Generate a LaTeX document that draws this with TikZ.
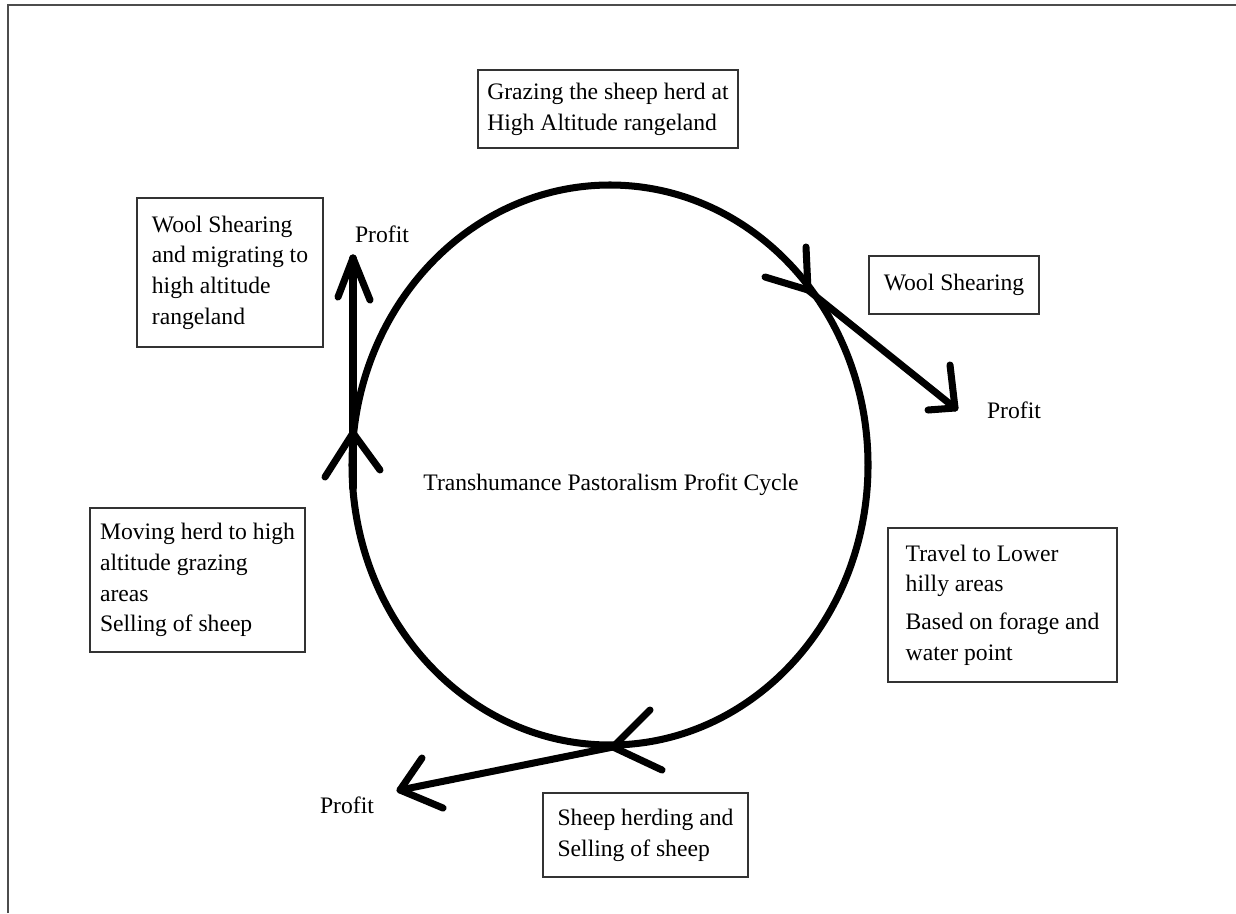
\documentclass[tikz,border=0pt]{standalone}
\usepackage{fontspec}
\setmainfont{Liberation Serif}
\newcommand\diagfont{\fontsize{13.45pt}{17.5pt}\selectfont}
\begin{document}
\begin{tikzpicture}[x=0.02cm, y=-0.02cm,
  stroke/.style={line width=4pt, line cap=round, line join=round, black},
  frame/.style={line width=1.2pt, black!70},
  infobox/.style={draw=black!80, line width=0.9pt, align=left, inner sep=0pt, font=\diagfont},
  plaintext/.style={font=\diagfont, inner sep=0pt}]

% page and its frame
\useasboundingbox (0,0) rectangle (1236,913);
\fill[white] (0,0) rectangle (1236,913);
\draw[frame] (8,913) -- (8,5) -- (1236,5);

% text boxes round the cycle
\node[infobox, minimum width=5.2cm, minimum height=1.56cm] (graze) at (608,109)
  {Grazing the sheep herd at\\High Altitude rangeland};
\node[infobox, minimum width=3.72cm, minimum height=2.98cm] (woolmig) at (230,272.5)
  {Wool Shearing\\and migrating to\\high altitude\\rangeland};
\node[infobox, minimum width=3.4cm, minimum height=1.16cm] (wool) at (954,285)
  {Wool Shearing};
\node[infobox, minimum width=4.58cm, minimum height=3.08cm] (travel) at (1002.5,605)
  {Travel to Lower\\hilly areas\\[4pt]Based on forage and\\water point};
\node[infobox, minimum width=4.3cm, minimum height=2.88cm] (moving) at (197.5,580)
  {Moving herd to high\\altitude grazing\\areas\\Selling of sheep};
\node[infobox, minimum width=4.1cm, minimum height=1.68cm] (sheep) at (645.5,835)
  {Sheep herding and\\Selling of sheep};

% centre title and profit labels
\node[plaintext] (title) at (611,485) {Transhumance Pastoralism Profit Cycle};
\node[plaintext] (profitL) at (382,234) {Profit};
\node[plaintext] (profitR) at (1014,410) {Profit};
\node[plaintext] (profitB) at (347,805) {Profit};

% the cycle
\draw[stroke] (610,465) ellipse [x radius=258, y radius=280];

% arrow points on the cycle and ends of the profit arrows
\coordinate (tipR) at (808,290);
\coordinate (tipB) at (613,747);
\coordinate (tipL) at (353,433);
\coordinate (baseL) at (353,488);
\coordinate (endR) at (955,408);
\coordinate (endB) at (400,790);
\coordinate (endL) at (353,258);

% direction marks on the cycle
\draw[stroke] (806,247) -- (tipR) -- (765,277);
\draw[stroke] (650,710) -- (tipB) -- (662,770);
\draw[stroke] (325,477) -- (tipL) -- (380,470);

% profit arrows
\draw[stroke] (tipR) -- (endR);
\draw[stroke] (950,365) -- (endR) -- (928,410);
\draw[stroke] (tipB) -- (endB);
\draw[stroke] (422,758) -- (endB) -- (443,808);
\draw[stroke] (baseL) -- (endL);
\draw[stroke] (338,297) -- (endL) -- (370,300);
\end{tikzpicture}
\end{document}
